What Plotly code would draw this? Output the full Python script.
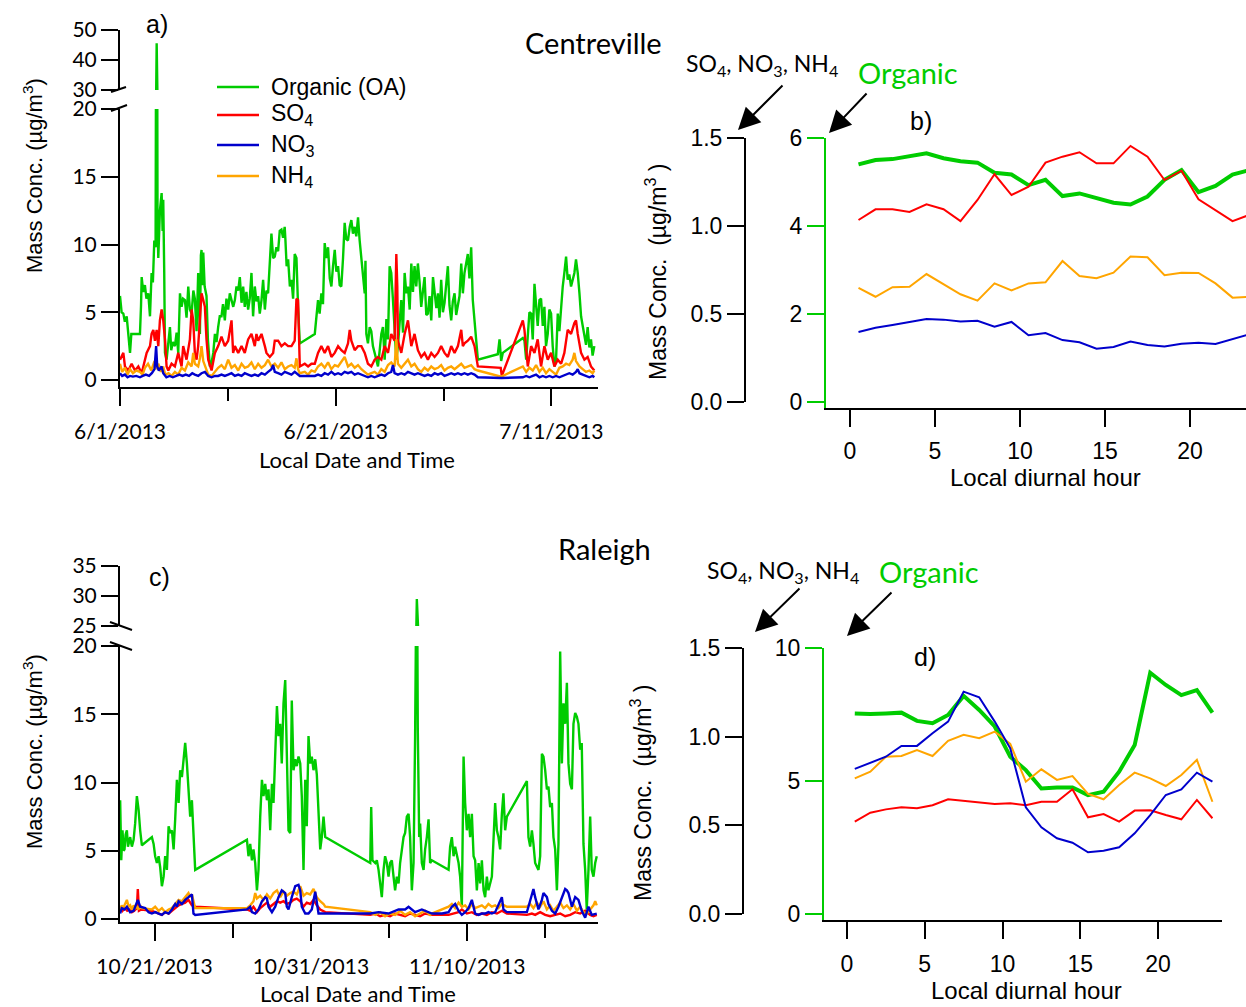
import pandas as pd
import plotly.graph_objects as go

# ---------------- data ----------------
# Centreville record: (days since 2013-06-01, ug/m3)
cv_oa = [(0.00, 6.2), (0.15, 5.0), (0.31, 4.9), (0.45, 4.3), (0.62, 4.7), (0.78, 3.2), (0.93, 2.0), (1.05, 3.4),
         (1.23, 3.4), (1.85, 3.4), (1.95, 5.5), (2.01, 7.6), (2.15, 6.5), (2.31, 7.0), (2.45, 6.0), (2.62, 6.4),
         (2.78, 4.7), (2.85, 6.8), (2.93, 7.9), (3.05, 7.2), (3.18, 10.3), (3.30, 9.8), (3.40, 45.6), (3.48, 11.5),
         (3.55, 9.0), (3.70, 12.5), (3.86, 13.8), (3.95, 11.0), (4.01, 13.3), (4.10, 8.0), (4.17, 2.0), (4.32, 1.5),
         (4.45, 2.6), (4.63, 3.9), (4.75, 2.2), (4.90, 2.8), (5.09, 2.5), (5.25, 3.5), (5.40, 2.0), (5.56, 6.4),
         (5.71, 5.4), (5.85, 6.0), (6.02, 5.9), (6.17, 4.6), (6.33, 6.9), (6.48, 5.2), (6.64, 4.9), (6.80, 6.6),
         (6.94, 6.0), (7.10, 3.6), (7.25, 7.9), (7.41, 3.4), (7.50, 9.2), (7.56, 9.6), (7.65, 7.0), (7.72, 9.4),
         (7.85, 6.9), (8.02, 6.2), (8.15, 3.0), (8.33, 1.0), (8.49, 1.3), (8.65, 2.0), (8.80, 3.4), (8.95, 2.8),
         (9.10, 3.9), (9.25, 4.7), (9.41, 4.7), (9.55, 5.6), (9.72, 4.4), (9.87, 6.0), (10.03, 5.2), (10.18, 6.4),
         (10.34, 5.9), (10.50, 5.4), (10.65, 5.9), (10.80, 6.9), (10.96, 6.6), (11.11, 7.6), (11.27, 5.7),
         (11.42, 6.9), (11.57, 5.4), (11.72, 6.5), (11.88, 5.2), (12.03, 6.0), (12.19, 7.9), (12.34, 4.7),
         (12.50, 6.9), (12.65, 5.8), (12.81, 6.2), (12.96, 4.9), (13.12, 5.9), (13.27, 7.4), (13.43, 5.2),
         (13.58, 6.6), (13.73, 6.4), (13.88, 8.6), (14.04, 10.8), (14.20, 9.0), (14.35, 9.1), (14.50, 9.8),
         (14.66, 9.5), (14.81, 11.0), (14.97, 11.1), (15.12, 10.5), (15.27, 11.3), (15.34, 10.3), (15.45, 8.4),
         (15.59, 8.9), (15.75, 6.9), (15.90, 7.4), (16.05, 6.0), (16.20, 9.3), (16.36, 9.0), (16.51, 5.4),
         (16.60, 3.9), (16.67, 2.7), (18.06, 3.4), (18.20, 4.5), (18.36, 5.9), (18.51, 4.9), (18.67, 6.4),
         (18.82, 5.6), (18.98, 10.1), (19.13, 9.0), (19.29, 9.8), (19.45, 7.5), (19.60, 6.9), (19.75, 8.4),
         (19.91, 9.6), (20.06, 8.0), (20.22, 8.4), (20.37, 7.0), (20.52, 6.9), (20.68, 9.0), (20.83, 11.6),
         (20.98, 10.4), (21.14, 10.3), (21.30, 11.3), (21.45, 11.8), (21.60, 10.8), (21.76, 11.3), (21.91, 10.6),
         (22.07, 12.0), (22.22, 10.3), (22.38, 8.9), (22.53, 7.9), (22.69, 6.4), (22.76, 8.8), (22.84, 3.4),
         (22.99, 2.7), (23.15, 3.9), (23.30, 3.6), (23.45, 2.5), (23.61, 2.0), (23.76, 1.6), (23.92, 1.0),
         (24.08, 2.2), (24.23, 3.4), (24.38, 3.9), (24.54, 1.5), (24.70, 4.5), (24.85, 3.0), (25.00, 8.4),
         (25.15, 7.9), (25.31, 5.9), (25.46, 3.4), (25.62, 1.5), (25.77, 2.5), (25.92, 4.0), (26.08, 5.9),
         (26.24, 3.5), (26.39, 7.9), (26.55, 6.4), (26.70, 6.9), (26.86, 5.2), (27.01, 8.6), (27.16, 6.5),
         (27.31, 8.4), (27.47, 6.9), (27.62, 8.6), (27.78, 7.2), (27.93, 5.4), (28.08, 6.5), (28.24, 7.6),
         (28.40, 4.8), (28.55, 4.9), (28.70, 6.2), (28.86, 4.4), (29.02, 7.6), (29.17, 6.4), (29.33, 5.3),
         (29.48, 6.4), (29.63, 4.6), (29.78, 7.4), (29.94, 5.0), (30.09, 5.7), (30.25, 7.0), (30.40, 8.4),
         (30.55, 5.5), (30.71, 4.4), (30.86, 5.8), (31.02, 6.4), (31.17, 4.8), (31.33, 5.4), (31.48, 6.2),
         (31.64, 8.6), (31.79, 6.4), (31.94, 7.9), (32.10, 8.8), (32.25, 9.3), (32.40, 7.5), (32.56, 9.8),
         (32.71, 5.9), (32.87, 4.4), (33.02, 3.0), (33.18, 1.5), (35.03, 1.9), (35.19, 3.0), (35.34, 1.4),
         (35.49, 2.0), (37.35, 3.1), (37.50, 2.9), (37.66, 1.5), (37.81, 3.4), (37.96, 5.0), (38.12, 4.9),
         (38.27, 3.0), (38.43, 7.1), (38.58, 5.4), (38.73, 4.0), (38.89, 5.9), (39.04, 6.0), (39.20, 4.0),
         (39.35, 5.4), (39.50, 2.5), (39.66, 3.4), (39.81, 5.2), (39.97, 4.9), (40.12, 2.5), (40.28, 1.0),
         (40.43, 1.5), (40.59, 4.9), (40.74, 3.6), (40.90, 5.4), (41.05, 6.9), (41.20, 7.9), (41.36, 9.1),
         (41.51, 7.4), (41.66, 7.8), (41.82, 6.9), (41.97, 7.5), (42.13, 7.9), (42.28, 8.9), (42.44, 7.9),
         (42.60, 6.4), (42.75, 4.7), (42.90, 4.0), (43.06, 3.4), (43.21, 2.6), (43.36, 3.9), (43.52, 2.4),
         (43.67, 3.0), (43.82, 1.8), (43.98, 2.5)]

cv_so4 = [(0.00, 1.5), (0.31, 2.0), (0.46, 1.0), (0.77, 0.7), (1.08, 1.2), (1.39, 0.7), (1.70, 1.0), (2.01, 0.5),
          (2.47, 2.0), (2.78, 2.5), (2.93, 3.4), (3.09, 3.7), (3.24, 2.9), (3.40, 3.7), (3.55, 2.5), (3.70, 4.4),
          (3.86, 5.2), (4.01, 4.4), (4.17, 3.0), (4.32, 1.0), (4.48, 0.7), (4.78, 1.2), (5.09, 1.0), (5.40, 2.0),
          (5.71, 1.0), (5.86, 2.5), (6.17, 1.5), (6.48, 3.0), (6.64, 5.2), (6.79, 4.4), (6.94, 2.0), (7.10, 1.5),
          (7.25, 2.5), (7.41, 4.9), (7.56, 6.4), (7.72, 5.9), (7.87, 5.4), (8.02, 3.0), (8.18, 1.5), (8.49, 0.7),
          (8.80, 2.0), (9.10, 2.5), (9.41, 3.2), (9.72, 2.5), (10.03, 2.9), (10.34, 4.4), (10.49, 2.0),
          (10.65, 2.5), (10.96, 2.0), (11.27, 2.5), (11.57, 2.0), (11.88, 3.0), (12.19, 3.4), (12.50, 2.5),
          (12.65, 3.4), (12.81, 2.9), (13.12, 3.4), (13.43, 2.5), (13.58, 2.0), (13.89, 1.7), (14.20, 2.0),
          (14.35, 2.9), (14.66, 2.9), (14.97, 2.5), (15.28, 2.7), (15.59, 2.5), (15.90, 2.5), (16.20, 2.9),
          (16.36, 6.0), (16.51, 5.9), (16.67, 1.0), (17.13, 1.2), (17.44, 1.0), (17.75, 1.2), (18.06, 1.2),
          (18.36, 2.0), (18.67, 2.5), (18.98, 2.0), (19.29, 2.5), (19.60, 1.7), (19.91, 2.0), (20.22, 2.5),
          (20.52, 2.2), (20.83, 2.0), (21.14, 2.7), (21.30, 3.7), (21.45, 2.9), (21.76, 2.2), (22.07, 2.5),
          (22.38, 2.5), (22.69, 2.0), (22.99, 1.2), (23.30, 1.0), (23.61, 1.5), (23.92, 1.7), (24.23, 1.5),
          (24.54, 2.5), (24.85, 2.0), (25.15, 3.4), (25.46, 2.9), (25.62, 9.3), (25.71, 6.9), (25.77, 2.9),
          (26.08, 2.0), (26.39, 3.4), (26.70, 4.4), (26.85, 3.4), (27.01, 2.5), (27.31, 3.4), (27.62, 2.2),
          (27.93, 1.7), (28.24, 2.0), (28.55, 1.5), (28.86, 2.0), (29.17, 1.7), (29.48, 2.0), (29.78, 2.5),
          (30.09, 2.0), (30.40, 1.7), (30.71, 2.5), (31.02, 2.0), (31.33, 2.5), (31.64, 3.7), (31.79, 2.5),
          (31.94, 2.7), (32.25, 2.9), (32.56, 3.2), (32.87, 2.5), (33.18, 1.0), (35.30, 0.9), (35.40, 0.3),
          (37.35, 4.4), (37.50, 3.7), (37.81, 1.0), (38.12, 2.5), (38.43, 2.0), (38.73, 3.0), (39.04, 1.0),
          (39.35, 2.5), (39.66, 1.5), (39.97, 2.0), (40.28, 1.0), (40.59, 1.5), (40.90, 1.2), (41.20, 2.0),
          (41.51, 3.7), (41.82, 3.4), (42.13, 4.2), (42.28, 4.4), (42.44, 3.4), (42.75, 2.0), (43.06, 1.5),
          (43.36, 1.7), (43.67, 1.0), (43.98, 0.7)]

cv_nh4 = [(0.00, 1.2), (0.20, 0.6), (0.46, 0.9), (0.70, 0.4), (0.93, 0.8), (1.20, 0.5), (1.50, 0.7), (1.85, 0.6),
          (2.10, 0.4), (2.31, 0.9), (2.60, 1.2), (2.90, 0.7), (3.20, 1.4), (3.40, 0.8), (3.55, 1.2), (3.80, 0.6),
          (4.00, 1.0), (4.20, 0.4), (4.50, 0.5), (4.78, 0.3), (5.09, 0.6), (5.40, 0.4), (5.71, 0.9), (6.02, 0.7),
          (6.33, 1.3), (6.64, 1.0), (6.79, 2.0), (6.94, 1.2), (7.25, 1.0), (7.41, 1.6), (7.56, 2.5), (7.72, 1.4),
          (7.90, 1.0), (8.18, 0.4), (8.49, 0.3), (8.80, 0.6), (9.10, 0.9), (9.41, 1.1), (9.72, 0.8), (10.03, 1.5),
          (10.34, 0.9), (10.65, 1.1), (10.96, 0.7), (11.27, 1.2), (11.57, 0.9), (11.88, 1.0), (12.19, 1.3),
          (12.50, 0.8), (12.81, 1.2), (13.12, 0.9), (13.43, 1.1), (13.73, 1.5), (14.04, 1.0), (14.35, 1.2),
          (14.66, 0.9), (14.97, 1.3), (15.28, 0.8), (15.59, 1.0), (15.90, 1.1), (16.20, 0.9), (16.36, 1.6),
          (16.51, 0.8), (16.67, 0.5), (17.13, 0.6), (17.44, 0.4), (17.75, 0.7), (18.06, 0.6), (18.36, 1.0),
          (18.67, 1.2), (18.98, 0.9), (19.29, 1.3), (19.60, 0.8), (19.91, 1.1), (20.22, 1.0), (20.52, 1.3),
          (20.83, 1.7), (21.14, 1.0), (21.45, 1.2), (21.76, 0.9), (22.07, 1.1), (22.38, 0.8), (22.69, 0.6),
          (22.99, 0.4), (23.30, 0.5), (23.61, 0.6), (23.92, 0.4), (24.23, 0.8), (24.54, 0.6), (24.85, 1.1),
          (25.15, 1.3), (25.46, 1.0), (25.62, 3.0), (25.77, 1.2), (26.08, 0.9), (26.39, 1.2), (26.70, 1.5),
          (27.01, 1.0), (27.31, 1.2), (27.62, 0.8), (27.93, 0.6), (28.24, 0.9), (28.55, 0.7), (28.86, 1.0),
          (29.17, 0.8), (29.48, 0.9), (29.78, 1.1), (30.09, 0.7), (30.40, 0.9), (30.71, 1.0), (31.02, 0.8),
          (31.33, 1.0), (31.64, 1.2), (31.94, 0.9), (32.25, 1.0), (32.56, 1.1), (32.87, 0.8), (33.18, 0.7),
          (35.34, 0.25), (37.35, 1.0), (37.66, 0.6), (37.96, 0.9), (38.27, 0.7), (38.58, 1.1), (38.89, 0.6),
          (39.20, 0.9), (39.50, 0.5), (39.81, 0.8), (40.12, 0.6), (40.43, 0.4), (40.74, 0.9), (41.05, 1.0),
          (41.36, 1.2), (41.66, 1.1), (41.97, 1.5), (42.13, 2.0), (42.28, 1.4), (42.60, 1.0), (42.90, 0.8),
          (43.21, 0.6), (43.52, 0.7), (43.82, 0.5), (43.98, 0.7)]

cv_no3 = [(0.00, 0.5), (0.20, 0.3), (0.46, 0.4), (0.70, 0.2), (0.93, 0.3), (1.20, 0.25), (1.50, 0.3), (1.85, 0.2),
          (2.10, 0.3), (2.40, 0.4), (2.70, 0.3), (2.95, 0.5), (3.20, 0.8), (3.35, 2.5), (3.45, 1.0), (3.60, 0.7),
          (3.86, 1.0), (4.01, 0.5), (4.30, 0.2), (4.60, 0.3), (4.90, 0.2), (5.20, 0.3), (5.50, 0.4), (5.80, 0.3),
          (6.10, 0.4), (6.40, 0.3), (6.70, 0.5), (6.94, 0.4), (7.25, 0.3), (7.56, 0.5), (7.87, 0.6), (8.18, 0.3),
          (8.49, 0.2), (8.80, 0.3), (9.10, 0.3), (9.41, 0.4), (9.72, 0.3), (10.03, 0.4), (10.34, 0.5), (10.65, 0.3),
          (10.96, 0.4), (11.27, 0.3), (11.57, 0.5), (11.88, 0.4), (12.19, 0.3), (12.50, 0.4), (12.81, 0.3),
          (13.12, 0.5), (13.43, 0.4), (13.73, 0.6), (14.04, 0.8), (14.20, 1.1), (14.35, 0.6), (14.66, 0.5),
          (14.97, 0.4), (15.28, 0.6), (15.59, 0.5), (15.90, 0.4), (16.20, 0.6), (16.51, 0.4), (16.67, 0.3),
          (17.44, 0.3), (18.06, 0.3), (18.36, 0.4), (18.67, 0.3), (18.98, 0.5), (19.29, 0.4), (19.60, 0.6),
          (19.91, 0.4), (20.22, 0.5), (20.52, 0.4), (20.83, 0.6), (21.14, 0.5), (21.45, 0.6), (21.76, 0.4),
          (22.07, 0.5), (22.38, 0.4), (22.69, 0.3), (22.99, 0.2), (23.30, 0.3), (23.61, 0.2), (23.92, 0.3),
          (24.23, 0.4), (24.54, 0.3), (24.85, 0.5), (25.15, 0.6), (25.31, 1.1), (25.46, 0.5), (25.77, 0.4),
          (26.08, 0.5), (26.39, 0.4), (26.70, 0.6), (27.01, 0.5), (27.31, 0.4), (27.62, 0.5), (27.93, 0.4),
          (28.24, 0.3), (28.55, 0.4), (28.86, 0.3), (29.17, 0.5), (29.48, 0.4), (29.78, 0.5), (30.09, 0.3),
          (30.40, 0.4), (30.71, 0.5), (31.02, 0.4), (31.33, 0.5), (31.64, 0.4), (31.94, 0.5), (32.25, 0.4),
          (32.56, 0.5), (32.87, 0.4), (33.18, 0.2), (35.34, 0.15), (37.35, 0.2), (37.66, 0.3), (37.96, 0.2),
          (38.27, 0.3), (38.58, 0.4), (38.89, 0.2), (39.20, 0.3), (39.50, 0.2), (39.81, 0.3), (40.12, 0.2),
          (40.43, 0.3), (40.74, 0.2), (41.05, 0.3), (41.36, 0.4), (41.66, 0.5), (41.97, 0.4), (42.28, 0.6),
          (42.44, 0.8), (42.60, 0.5), (42.90, 0.4), (43.21, 0.3), (43.52, 0.2), (43.82, 0.3), (43.98, 0.2)]

# Raleigh record: (days relative to 2013-10-21, ug/m3)
ra_oa = [(-2.20, 8.7), (-2.13, 4.3), (-2.05, 6.5), (-1.98, 5.0), (-1.92, 5.1), (-1.85, 6.2), (-1.77, 6.5),
         (-1.70, 5.3), (-1.66, 5.5), (-1.56, 6.0), (-1.50, 5.6), (-1.45, 5.3), (-1.34, 5.8), (-1.24, 7.0),
         (-1.13, 9.0), (-1.02, 8.0), (-0.92, 6.5), (-0.81, 5.4), (-0.17, 6.0), (-0.06, 5.5), (0.04, 4.6),
         (0.15, 4.1), (0.26, 4.6), (0.36, 3.8), (0.47, 2.4), (0.58, 3.1), (0.68, 4.6), (0.79, 3.6), (0.90, 6.8),
         (1.00, 6.3), (1.11, 6.5), (1.22, 5.1), (1.32, 7.3), (1.43, 10.2), (1.54, 8.5), (1.64, 10.9), (1.75, 10.4),
         (1.86, 11.9), (1.96, 12.9), (2.07, 11.4), (2.17, 9.0), (2.28, 7.5), (2.39, 8.7), (2.49, 6.5), (2.60, 3.6),
         (5.91, 5.8), (6.01, 4.6), (6.12, 5.5), (6.23, 4.3), (6.33, 5.1), (6.44, 4.1), (6.55, 2.1), (6.65, 3.6),
         (6.76, 7.5), (6.87, 10.2), (6.97, 9.0), (7.08, 9.9), (7.19, 8.7), (7.29, 9.5), (7.40, 6.5), (7.51, 9.9),
         (7.61, 8.5), (7.72, 12.6), (7.83, 15.6), (7.93, 13.4), (8.04, 14.3), (8.14, 11.4), (8.25, 15.8),
         (8.36, 17.5), (8.46, 12.6), (8.57, 6.5), (8.68, 6.3), (8.78, 16.0), (8.89, 10.9), (9.00, 11.7),
         (9.10, 11.2), (9.21, 11.9), (9.32, 11.4), (9.42, 9.0), (9.53, 3.6), (9.64, 10.2), (9.74, 6.8),
         (9.85, 13.4), (9.96, 11.4), (10.06, 11.9), (10.17, 10.9), (10.28, 11.7), (10.38, 10.6), (10.49, 7.5),
         (10.60, 5.1), (10.70, 6.0), (10.81, 7.5), (10.92, 6.0), (13.80, 4.1), (13.86, 8.2), (13.94, 4.3),
         (14.12, 4.1), (14.22, 4.3), (14.33, 3.6), (14.43, 2.6), (14.54, 1.6), (14.65, 3.6), (14.75, 4.6),
         (14.86, 4.1), (14.97, 3.1), (15.07, 4.1), (15.18, 4.3), (15.29, 3.1), (15.39, 2.1), (15.50, 3.1),
         (15.61, 2.6), (15.71, 4.1), (15.82, 5.3), (15.93, 6.0), (16.03, 6.3), (16.14, 7.5), (16.25, 7.7),
         (16.35, 6.0), (16.46, 2.1), (16.57, 4.1), (16.67, 13.4), (16.78, 29.5), (16.84, 14.0), (16.93, 6.0),
         (16.99, 7.0), (17.10, 4.1), (17.21, 3.6), (17.31, 5.1), (17.42, 6.0), (17.53, 7.3), (17.63, 4.1),
         (17.74, 4.3), (18.81, 3.6), (18.91, 5.3), (19.02, 6.0), (19.13, 4.6), (19.23, 5.3), (19.34, 4.8),
         (19.45, 4.1), (19.55, 3.1), (19.66, 0.9), (19.77, 11.9), (19.87, 8.5), (19.98, 6.5), (20.09, 7.7),
         (20.19, 6.0), (20.30, 7.7), (20.41, 4.6), (20.51, 4.3), (20.62, 2.1), (20.73, 4.1), (20.83, 2.6),
         (20.94, 4.3), (21.05, 2.1), (21.15, 1.6), (21.26, 3.1), (21.36, 2.1), (21.47, 2.6), (21.58, 3.1),
         (21.79, 8.5), (21.90, 6.5), (22.00, 6.0), (22.11, 5.1), (22.22, 7.7), (22.32, 9.2), (22.43, 6.5),
         (22.54, 7.5), (23.82, 10.1), (23.92, 6.0), (24.03, 5.3), (24.14, 6.5), (24.24, 5.5), (24.35, 4.1),
         (24.56, 3.6), (24.67, 4.6), (24.78, 12.1), (24.88, 11.9), (24.99, 10.9), (25.10, 9.5), (25.20, 9.7),
         (25.31, 8.2), (25.42, 8.5), (25.52, 6.0), (25.63, 5.1), (25.74, 2.1), (25.84, 5.5), (25.95, 19.6),
         (26.06, 11.4), (26.16, 15.8), (26.27, 14.3), (26.38, 17.3), (26.48, 11.4), (26.59, 9.9), (26.70, 9.5),
         (26.80, 14.3), (26.91, 15.1), (27.02, 14.8), (27.12, 14.3), (27.23, 12.4), (27.33, 12.9), (27.44, 5.5),
         (27.55, 3.6), (27.65, 0.7), (27.76, 3.6), (27.87, 7.5), (27.97, 3.6), (28.08, 3.1), (28.19, 4.1),
         (28.29, 4.6)]

ra_so4 = [(-2.20, 0.9), (-2.05, 0.6), (-1.90, 0.8), (-1.75, 0.6), (-1.60, 0.7), (-1.45, 0.5), (-1.30, 0.6),
          (-1.13, 0.8), (-1.07, 2.2), (-1.00, 0.6), (-0.85, 0.7), (-0.17, 0.6), (0.04, 0.5), (0.26, 0.4),
          (0.47, 0.3), (0.68, 0.5), (0.90, 0.4), (1.11, 0.6), (1.32, 0.8), (1.54, 1.0), (1.75, 1.1), (1.96, 1.2),
          (2.17, 1.4), (2.39, 1.0), (2.60, 0.9), (5.91, 0.7), (6.12, 0.6), (6.33, 0.9), (6.55, 0.5), (6.76, 0.8),
          (6.97, 1.0), (7.19, 1.2), (7.40, 0.9), (7.61, 1.1), (7.83, 1.3), (8.04, 1.2), (8.25, 1.3), (8.46, 1.1),
          (8.68, 1.2), (8.89, 1.4), (9.10, 1.5), (9.32, 1.3), (9.53, 0.9), (9.74, 1.2), (9.96, 1.1), (10.17, 1.4),
          (10.38, 1.0), (10.60, 0.7), (10.81, 0.6), (10.92, 0.5), (13.80, 0.3), (14.12, 0.4), (14.43, 0.2),
          (14.75, 0.3), (15.07, 0.2), (15.39, 0.4), (15.71, 0.3), (16.03, 0.2), (16.35, 0.4), (16.67, 0.3),
          (16.99, 0.2), (17.31, 0.4), (17.74, 0.3), (18.81, 0.3), (19.13, 0.4), (19.45, 0.5), (19.66, 0.7),
          (19.98, 0.4), (20.30, 0.5), (20.62, 0.3), (20.94, 0.4), (21.26, 0.3), (21.58, 0.5), (21.90, 0.4),
          (22.22, 0.6), (22.54, 0.4), (23.82, 0.3), (24.14, 0.4), (24.35, 0.3), (24.67, 0.5), (24.99, 0.3),
          (25.31, 0.2), (25.63, 0.3), (25.95, 0.4), (26.27, 0.2), (26.59, 0.3), (26.91, 0.5), (27.23, 0.4),
          (27.55, 0.6), (27.87, 0.3), (28.08, 0.2), (28.29, 0.3)]

ra_nh4 = [(-2.20, 0.7), (-2.10, 1.0), (-2.00, 0.8), (-1.90, 1.1), (-1.77, 1.4), (-1.66, 0.9), (-1.56, 1.0),
          (-1.45, 0.7), (-1.34, 1.0), (-1.24, 0.8), (-1.13, 0.9), (-1.02, 0.7), (-0.92, 1.0), (-0.81, 0.8),
          (-0.17, 0.7), (0.04, 0.9), (0.26, 0.6), (0.47, 0.8), (0.68, 0.5), (0.90, 0.7), (1.11, 0.8), (1.32, 1.1),
          (1.54, 1.4), (1.75, 1.3), (1.96, 1.6), (2.17, 1.9), (2.28, 1.6), (2.39, 1.8), (2.60, 0.8), (5.91, 0.8),
          (6.12, 1.0), (6.33, 1.3), (6.44, 1.9), (6.55, 1.5), (6.76, 1.7), (6.97, 1.4), (7.19, 1.8), (7.40, 1.5),
          (7.61, 1.9), (7.83, 2.1), (8.04, 1.6), (8.25, 2.0), (8.46, 1.7), (8.68, 1.9), (8.89, 2.0), (9.10, 1.8),
          (9.32, 2.4), (9.53, 1.7), (9.74, 1.9), (9.96, 1.8), (10.17, 2.2), (10.38, 1.6), (10.60, 1.3),
          (10.81, 1.1), (10.92, 0.9), (13.80, 0.5), (14.12, 0.3), (14.43, 0.5), (14.75, 0.2), (15.07, 0.4),
          (15.39, 0.3), (15.71, 0.6), (16.03, 0.3), (16.35, 0.5), (16.67, 0.2), (16.99, 0.4), (17.31, 0.6),
          (17.63, 0.3), (17.74, 0.4), (18.81, 0.9), (19.02, 1.1), (19.23, 0.8), (19.45, 1.2), (19.66, 0.9),
          (19.87, 1.0), (20.09, 0.7), (20.30, 1.1), (20.51, 0.8), (20.73, 0.9), (20.94, 1.0), (21.15, 0.8),
          (21.36, 1.1), (21.58, 0.9), (21.79, 1.0), (22.00, 0.8), (22.22, 1.1), (22.54, 0.9), (23.82, 0.9),
          (24.03, 1.1), (24.24, 0.8), (24.46, 1.2), (24.67, 0.9), (24.88, 1.3), (25.10, 0.7), (25.31, 1.0),
          (25.52, 0.6), (25.74, 0.9), (25.95, 1.2), (26.16, 0.8), (26.38, 1.0), (26.59, 0.7), (26.80, 1.1),
          (27.02, 0.6), (27.23, 0.9), (27.44, 0.5), (27.65, 0.4), (27.87, 0.7), (28.08, 1.0), (28.19, 1.3),
          (28.29, 1.0)]

ra_no3 = [(-2.20, 0.4), (-2.10, 0.8), (-1.92, 0.7), (-1.77, 0.9), (-1.56, 0.5), (-1.34, 0.6), (-1.07, 1.4),
          (-0.92, 0.9), (-0.60, 0.8), (-0.38, 0.5), (-0.17, 0.4), (0.04, 0.5), (0.26, 0.4), (0.47, 0.3),
          (0.68, 0.5), (0.90, 0.4), (1.11, 0.7), (1.32, 1.1), (1.43, 0.9), (1.54, 1.3), (1.75, 1.1), (1.96, 1.4),
          (2.17, 1.6), (2.39, 1.8), (2.49, 0.4), (2.60, 0.3), (5.91, 0.7), (6.12, 0.9), (6.23, 0.5), (6.44, 0.4),
          (6.65, 0.7), (6.87, 1.3), (7.08, 1.6), (7.19, 1.5), (7.29, 0.9), (7.51, 0.5), (7.72, 0.9), (7.93, 1.6),
          (8.14, 2.1), (8.36, 1.9), (8.46, 0.9), (8.57, 0.7), (8.78, 1.6), (9.00, 2.4), (9.21, 2.5), (9.32, 2.1),
          (9.42, 0.9), (9.64, 0.4), (9.85, 0.4), (10.06, 0.7), (10.28, 2.0), (10.38, 1.1), (10.49, 0.4),
          (10.70, 0.4), (10.92, 0.4), (13.80, 0.4), (14.33, 0.5), (14.97, 0.4), (15.61, 0.7), (16.03, 0.7),
          (16.25, 0.9), (16.67, 0.5), (17.10, 0.7), (17.74, 0.4), (18.40, 0.4), (18.81, 0.5), (19.02, 0.9),
          (19.23, 1.1), (19.45, 0.6), (19.66, 0.3), (19.87, 0.5), (20.09, 0.8), (20.30, 1.4), (20.51, 0.4),
          (20.73, 0.3), (20.94, 0.4), (21.15, 0.4), (21.36, 0.5), (21.58, 0.4), (21.79, 0.5), (22.22, 1.6),
          (22.32, 0.7), (22.54, 0.5), (23.82, 0.5), (23.92, 0.9), (24.24, 2.2), (24.35, 1.6), (24.56, 0.7),
          (24.78, 1.4), (24.88, 1.9), (25.10, 1.6), (25.20, 1.1), (25.42, 0.6), (25.63, 0.4), (25.84, 0.9),
          (26.06, 1.6), (26.27, 2.2), (26.38, 2.1), (26.48, 1.9), (26.70, 0.9), (26.91, 1.6), (27.12, 1.4),
          (27.33, 0.6), (27.55, 0.1), (27.76, 0.9), (27.97, 0.3), (28.19, 0.4), (28.29, 0.4)]

# Diurnal means (local hour, bin centres)
hours = [0.5, 1.5, 2.5, 3.5, 4.5, 5.5, 6.5, 7.5, 8.5, 9.5, 10.5, 11.5,
         12.5, 13.5, 14.5, 15.5, 16.5, 17.5, 18.5, 19.5, 20.5, 21.5, 22.5, 23.5]

cv_d_oa = [5.40, 5.50, 5.52, 5.58, 5.65, 5.54, 5.47, 5.44, 5.21, 5.17, 4.93, 5.05,
           4.68, 4.74, 4.63, 4.53, 4.49, 4.67, 5.05, 5.27, 4.77, 4.91, 5.17, 5.27]
cv_d_so4 = [1.034, 1.095, 1.095, 1.080, 1.123, 1.095, 1.028, 1.148, 1.294, 1.176, 1.223, 1.360,
            1.394, 1.419, 1.356, 1.356, 1.455, 1.394, 1.261, 1.314, 1.152, 1.090, 1.028, 1.063]
cv_d_nh4 = [0.648, 0.598, 0.652, 0.655, 0.727, 0.670, 0.612, 0.576, 0.674, 0.634, 0.674, 0.680,
            0.801, 0.716, 0.703, 0.735, 0.826, 0.822, 0.720, 0.735, 0.733, 0.674, 0.593, 0.598]
cv_d_no3 = [0.398, 0.422, 0.438, 0.455, 0.472, 0.468, 0.458, 0.462, 0.428, 0.455, 0.379, 0.392,
            0.352, 0.339, 0.303, 0.313, 0.343, 0.324, 0.315, 0.331, 0.337, 0.330, 0.356, 0.385]

ra_d_oa = [7.54, 7.52, 7.54, 7.57, 7.26, 7.17, 7.48, 8.20, 7.67, 7.05, 5.91, 5.41,
           4.72, 4.76, 4.76, 4.47, 4.60, 5.35, 6.35, 9.07, 8.61, 8.23, 8.42, 7.57]
ra_d_so4 = [0.521, 0.571, 0.590, 0.602, 0.596, 0.613, 0.647, 0.637, 0.628, 0.620, 0.624, 0.613,
            0.633, 0.633, 0.703, 0.545, 0.564, 0.521, 0.583, 0.585, 0.558, 0.534, 0.643, 0.540]
ra_d_nh4 = [0.765, 0.803, 0.887, 0.891, 0.925, 0.891, 0.977, 1.010, 0.991, 1.028, 0.959, 0.746,
            0.816, 0.756, 0.778, 0.677, 0.647, 0.728, 0.797, 0.765, 0.722, 0.784, 0.869, 0.633]
ra_d_no3 = [0.818, 0.853, 0.887, 0.948, 0.948, 1.019, 1.085, 1.254, 1.222, 1.085, 0.934, 0.602,
            0.489, 0.427, 0.402, 0.348, 0.357, 0.376, 0.455, 0.558, 0.671, 0.703, 0.797, 0.746]

cv_start = "2013-06-01"
ra_start = "2013-10-21"
cv_ticks = ["2013-06-01", "2013-06-21", "2013-07-11"]
cv_ticktext = ["6/1/2013", "6/21/2013", "7/11/2013"]
cv_minor = ["2013-06-11", "2013-07-01"]
ra_ticks = ["2013-10-21", "2013-10-31", "2013-11-10"]
ra_ticktext = ["10/21/2013", "10/31/2013", "11/10/2013"]
ra_minor = ["2013-10-26", "2013-11-05", "2013-11-15"]

GREEN = "#00CC00"
RED = "#FF0000"
BLUE = "#0000CC"
ORANGE = "#FFA500"

# ---------------- helpers ----------------
W, H = 1246, 1007


def fx(p):
    return p / W


def fy(p):
    return 1 - p / H


def to_time(pairs, start):
    d = [p[0] for p in pairs]
    return list(pd.Timestamp(start) + pd.to_timedelta(d, unit="D"))


def vals(pairs):
    return [p[1] for p in pairs]


fig = go.Figure()


def line(x, y, color, xa, ya, width=2.4):
    fig.add_trace(go.Scatter(x=x, y=y, mode="lines", line=dict(color=color, width=width),
                             xaxis=xa, yaxis=ya, showlegend=False, hoverinfo="skip"))


# (a) Centreville time series, broken y axis
line(to_time(cv_oa, cv_start), vals(cv_oa), GREEN, "x", "y")
line(to_time(cv_oa, cv_start), vals(cv_oa), GREEN, "x", "y2")
line(to_time(cv_so4, cv_start), vals(cv_so4), RED, "x", "y")
line(to_time(cv_nh4, cv_start), vals(cv_nh4), ORANGE, "x", "y")
line(to_time(cv_no3, cv_start), vals(cv_no3), BLUE, "x", "y")

# (b) Centreville diurnal
line(hours, cv_d_oa, GREEN, "x2", "y3", width=4)
line(hours, cv_d_so4, RED, "x2", "y4", width=2)
line(hours, cv_d_nh4, ORANGE, "x2", "y4", width=2)
line(hours, cv_d_no3, BLUE, "x2", "y4", width=2)

# (c) Raleigh time series, broken y axis
line(to_time(ra_oa, ra_start), vals(ra_oa), GREEN, "x3", "y5")
line(to_time(ra_oa, ra_start), vals(ra_oa), GREEN, "x3", "y6")
line(to_time(ra_so4, ra_start), vals(ra_so4), RED, "x3", "y5")
line(to_time(ra_nh4, ra_start), vals(ra_nh4), ORANGE, "x3", "y5")
line(to_time(ra_no3, ra_start), vals(ra_no3), BLUE, "x3", "y5")

# (d) Raleigh diurnal
line(hours, ra_d_oa, GREEN, "x4", "y7", width=4)
line(hours, ra_d_so4, RED, "x4", "y8", width=2)
line(hours, ra_d_nh4, ORANGE, "x4", "y8", width=2)
line(hours, ra_d_no3, BLUE, "x4", "y8", width=2)

CAL = "Lato"
ARI = "Liberation Sans"


def axis(**kw):
    base = dict(showline=True, linewidth=2, linecolor="black", ticks="outside", ticklen=17,
                tickwidth=2, tickcolor="black", showgrid=False, zeroline=False, automargin=False,
                tickfont=dict(family=CAL, size=21, color="black"))
    base.update(kw)
    return base


ARI_TICK = dict(family=ARI, size=23, color="black")
day = pd.Timedelta(days=1)
cv_t0 = pd.Timestamp(cv_start)
ra_t0 = pd.Timestamp(ra_start)

fig.update_layout(
    width=W, height=H, margin=dict(l=0, r=0, t=0, b=0, autoexpand=False),
    paper_bgcolor="white", plot_bgcolor="rgba(0,0,0,0)", showlegend=False,
    # panel a
    xaxis=axis(domain=[fx(120), fx(598)], anchor="y", type="date",
               range=[cv_t0, cv_t0 + 44.32 * day], tickmode="array",
               tickvals=cv_ticks, ticktext=cv_ticktext, ticklabelstandoff=8,
               minor=dict(tickmode="array", tickvals=cv_minor, ticks="outside", ticklen=12,
                          tickwidth=2, tickcolor="black", showgrid=False)),
    yaxis=axis(domain=[fy(386.5), fy(109)], anchor="x", range=[-0.48, 20],
               tickmode="array", tickvals=[0, 5, 10, 15, 20]),
    yaxis2=axis(domain=[fy(90), fy(30)], anchor="x", range=[30, 50],
                tickmode="array", tickvals=[30, 40, 50]),
    # panel b
    xaxis2=axis(domain=[fx(826), 1.0], anchor="y3", range=[-24 / 17, 396 / 17],
                tickmode="array", tickvals=[0, 5, 10, 15, 20], tickfont=ARI_TICK,
                ticklabelstandoff=4),
    yaxis3=axis(domain=[fy(408), fy(138)], anchor="x2", range=[-6 / 44, 6],
                tickmode="array", tickvals=[0, 2, 4, 6], linecolor=GREEN, tickcolor=GREEN,
                tickfont=ARI_TICK),
    yaxis4=axis(domain=[fy(402), fy(138)], anchor="free", position=fx(745), range=[0, 1.5],
                tickmode="array", tickvals=[0, 0.5, 1.0, 1.5], tickformat=".1f",
                tickfont=ARI_TICK),
    # panel c
    xaxis3=axis(domain=[fx(120), fx(598)], anchor="y5", type="date",
                range=[ra_t0 - 2.21 * day, ra_t0 + 28.37 * day], tickmode="array",
                tickvals=ra_ticks, ticktext=ra_ticktext, ticklabelstandoff=8,
                minor=dict(tickmode="array", tickvals=ra_minor, ticks="outside", ticklen=14,
                           tickwidth=2, tickcolor="black", showgrid=False)),
    yaxis5=axis(domain=[fy(922), fy(646)], anchor="x3", range=[-0.22, 20],
                tickmode="array", tickvals=[0, 5, 10, 15, 20]),
    yaxis6=axis(domain=[fy(626), fy(566)], anchor="x3", range=[25, 35],
                tickmode="array", tickvals=[25, 30, 35]),
    # panel d
    xaxis4=axis(domain=[fx(824), fx(1222)], anchor="y7", range=[-23 / 15.55, 375 / 15.55],
                tickmode="array", tickvals=[0, 5, 10, 15, 20], tickfont=ARI_TICK,
                ticklabelstandoff=5),
    yaxis7=axis(domain=[fy(920), fy(648)], anchor="x4", range=[-6 / 26.6, 10],
                tickmode="array", tickvals=[0, 5, 10], linecolor=GREEN, tickcolor=GREEN,
                tickfont=ARI_TICK),
    yaxis8=axis(domain=[fy(914), fy(648)], anchor="free", position=fx(743), range=[0, 1.5],
                tickmode="array", tickvals=[0, 0.5, 1.0, 1.5], tickformat=".1f",
                tickfont=ARI_TICK),
)

ann = []


def text(x, y, s, size, family=ARI, color="black", angle=0, xanchor="center"):
    ann.append(dict(x=fx(x), y=fy(y), xref="paper", yref="paper", text=s, showarrow=False,
                    font=dict(family=family, size=size, color=color), textangle=angle,
                    xanchor=xanchor, yanchor="middle"))


def arrow(x0, y0, x1, y1):
    ann.append(dict(x=fx(x1), y=fy(y1), xref="paper", yref="paper", ax=x0 - x1, ay=y0 - y1,
                    axref="pixel", ayref="pixel", text="", showarrow=True, arrowhead=2,
                    arrowsize=2.2, arrowwidth=2, arrowcolor="black"))


MC = "Mass Conc. (µg/m<sup>3</sup>)"
MC2 = "Mass Conc.  (µg/m<sup>3</sup> )"

# site titles and panel letters
text(593, 42, "Centreville", 29, family=CAL)
text(604, 548, "Raleigh", 29, family=CAL)
text(157, 24, "a)", 25)
text(921, 121, "b)", 25)
text(160, 577, "c)", 25)
text(925, 657, "d)", 25)

# axis titles
text(33, 176, MC, 22, angle=-90)
text(33, 752, MC, 22, angle=-90)
text(656, 272, MC2, 23, angle=-90)
text(641, 793, MC2, 23, angle=-90)
text(357, 460, "Local Date and Time", 22, family=CAL)
text(358, 993, "Local Date and Time", 22, family=CAL)
text(1045, 478, "Local diurnal hour", 24)
text(1026, 990, "Local diurnal hour", 24)

# dual-axis captions with pointers
text(762, 65, "SO<sub>4</sub>, NO<sub>3</sub>, NH<sub>4</sub>", 23, family=CAL)
text(908, 72, "Organic", 29, family=CAL, color=GREEN)
arrow(784, 84, 738, 130)
arrow(868, 92, 829, 133)
text(783, 571, "SO<sub>4</sub>, NO<sub>3</sub>, NH<sub>4</sub>", 23, family=CAL)
text(929, 571, "Organic", 29, family=CAL, color=GREEN)
arrow(801, 587, 755, 632)
arrow(893, 591, 847, 636)

# legend for panel a
legend_rows = [("Organic (OA)", GREEN, 87), ("SO<sub>4</sub>", RED, 115),
               ("NO<sub>3</sub>", BLUE, 145), ("NH<sub>4</sub>", ORANGE, 176)]
shapes = []
for label, col, yy in legend_rows:
    shapes.append(dict(type="line", xref="paper", yref="paper", x0=fx(217), x1=fx(259),
                       y0=fy(yy), y1=fy(yy), line=dict(color=col, width=2.4)))
    text(269, yy, label, 23, xanchor="left")

# axis-break marks
for (x0, y0, x1, y1) in [(111, 92, 126, 87), (111, 111, 127, 105),
                         (110, 622, 132, 630), (110, 642, 132, 650)]:
    shapes.append(dict(type="line", xref="paper", yref="paper", x0=fx(x0), x1=fx(x1),
                       y0=fy(y0), y1=fy(y1), line=dict(color="black", width=2)))

fig.update_layout(annotations=ann, shapes=shapes)
fig.write_html("out.html")
